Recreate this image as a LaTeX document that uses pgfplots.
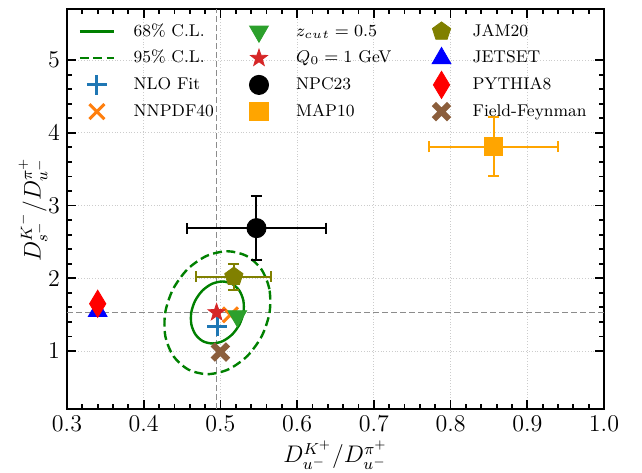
\documentclass[border=0pt]{standalone}
\usepackage{fix-cm}
\usepackage{pgfplots}
\pgfplotsset{compat=1.18}
\usetikzlibrary{plotmarks}

\definecolor{tabblue}{HTML}{1F77B4}
\definecolor{taborange}{HTML}{FF7F0E}
\definecolor{tabgreen}{HTML}{2CA02C}
\definecolor{tabred}{HTML}{D62728}
\definecolor{mplgreen}{HTML}{008000}
\definecolor{maporange}{HTML}{FFA500}
\definecolor{mplolive}{HTML}{808000}
\definecolor{mplblue}{HTML}{0000FF}
\definecolor{mplred}{HTML}{FF0000}
\definecolor{ffbrown}{HTML}{8B5E3C}
\definecolor{refgray}{HTML}{8C8C8C}

\pgfdeclareplotmark{fstar}{%
  \pgfpathmoveto{\pgfpointpolar{90}{\pgfplotmarksize}}%
  \pgfpathlineto{\pgfpointpolar{126}{0.4\pgfplotmarksize}}%
  \pgfpathlineto{\pgfpointpolar{162}{\pgfplotmarksize}}%
  \pgfpathlineto{\pgfpointpolar{198}{0.4\pgfplotmarksize}}%
  \pgfpathlineto{\pgfpointpolar{234}{\pgfplotmarksize}}%
  \pgfpathlineto{\pgfpointpolar{270}{0.4\pgfplotmarksize}}%
  \pgfpathlineto{\pgfpointpolar{306}{\pgfplotmarksize}}%
  \pgfpathlineto{\pgfpointpolar{342}{0.4\pgfplotmarksize}}%
  \pgfpathlineto{\pgfpointpolar{18}{\pgfplotmarksize}}%
  \pgfpathlineto{\pgfpointpolar{54}{0.4\pgfplotmarksize}}%
  \pgfpathclose\pgfusepathqfillstroke}

\pgfplotsset{
  ebars/.style={error bars/.cd, x dir=both, x explicit, y dir=both, y explicit,
    error bar style={line width=1pt, #1},
    error mark options={rotate=90, mark size=2.8pt, line width=1pt, #1}},
  s68/.style={mplgreen, line width=1.2pt},
  s95/.style={mplgreen, line width=1.2pt, dash pattern=on 4.5pt off 2.2pt},
  sNLO/.style={tabblue, only marks, mark=+, mark size=5pt, mark options={line width=1.5pt}},
  sNNPDF/.style={taborange, only marks, mark=x, mark size=5.3pt, mark options={line width=1.5pt}},
  sZ/.style={tabgreen, only marks, mark=triangle*, mark size=5.4pt, mark options={rotate=180}},
  sQ/.style={tabred, only marks, mark=fstar, mark size=4.5pt},
  sNPC/.style={black, only marks, mark=*, mark size=4.8pt},
  sMAP/.style={maporange, only marks, mark=square*, mark size=4.6pt},
  sJAM/.style={mplolive, only marks, mark=pentagon*, mark size=4.8pt},
  sJET/.style={mplblue, only marks, mark=triangle*, mark size=5.4pt},
  sPY/.style={mplred, only marks, mark=diamond*, mark size=6.8pt, mark options={xscale=0.8}},
  sFF/.style={ffbrown, only marks, mark=x, mark size=5.4pt, mark options={line width=3pt}},
}

\begin{document}
\begin{tikzpicture}
\begin{axis}[
  scale only axis, width=268.5pt, height=200pt,
  xmin=0.3, xmax=1.0, ymin=0.2, ymax=5.7,
  xtick={0.3,0.4,0.5,0.6,0.7,0.8,0.9,1.0},
  ytick={1,2,3,4,5},
  minor x tick num=4, minor y tick num=4,
  tick align=inside,
  major tick length=4.5pt, minor tick length=2.5pt,
  every tick/.style={black, line width=0.9pt},
  axis line style={line width=1.2pt},
  grid=major, major grid style={densely dotted, gray!40, line width=0.4pt},
  xticklabel style={/pgf/number format/.cd, fixed, fixed zerofill, precision=1},
  tick label style={font=\fontsize{12}{14}\selectfont},
  xlabel={$D_{u^-}^{K^+}/D_{u^-}^{\pi^+}$},
  ylabel={$D_{s^-}^{K^-}/D_{u^-}^{\pi^+}$},
  every axis x label/.style={at={(rel axis cs:0.5,0)}, yshift=-23pt, anchor=center, font=\fontsize{12}{14}\selectfont},
  every axis y label/.style={at={(rel axis cs:0,0.5)}, xshift=-17pt, rotate=90, anchor=center, font=\fontsize{12}{14}\selectfont},
  legend image code/.code={%
    \path[draw=none, fill=none] (0cm,-1pt) rectangle (0.6cm,1pt);
    \draw[overlay, mark repeat=2, mark phase=2, #1] plot coordinates {(0cm,0cm) (0.3cm,0cm) (0.6cm,0cm)};},
  legend columns=3,
  legend cell align=left,
  legend style={at={(0.012,0.985)}, anchor=north west, draw=none, fill=none,
    font=\fontsize{8.5}{10}\selectfont, row sep=1.45pt,
    nodes={inner ysep=1.2pt, text height=7pt, text depth=2.5pt},
    /tikz/column 1/.append style={column sep=7.8pt},
    /tikz/column 2/.append style={column sep=12pt},
    /tikz/column 3/.append style={column sep=8pt},
    /tikz/column 4/.append style={column sep=14.5pt},
    /tikz/column 5/.append style={column sep=5pt}},
]
% reference lines
\addplot[refgray, line width=0.7pt, dash pattern=on 3pt off 1.5pt, forget plot] coordinates {(0.495,0.2) (0.495,5.7)};
\addplot[refgray, line width=0.7pt, dash pattern=on 3pt off 1.5pt, forget plot] coordinates {(0.3,1.53) (1.0,1.53)};

% 68% C.L. contour
\addplot[s68, smooth cycle, forget plot] coordinates {
 (0.5300,1.530) (0.5299,1.693) (0.5246,1.832) (0.5150,1.924) (0.5025,1.956)
 (0.4890,1.924) (0.4766,1.832) (0.4671,1.693) (0.4620,1.530) (0.4621,1.367)
 (0.4674,1.229) (0.4770,1.136) (0.4895,1.104) (0.5030,1.136) (0.5154,1.229)
 (0.5249,1.367)};
% 95% C.L. contour
\addplot[s95, smooth cycle, forget plot] coordinates {
 (0.5640,1.527) (0.5638,1.850) (0.5533,2.125) (0.5340,2.308) (0.5090,2.372)
 (0.4820,2.308) (0.4571,2.125) (0.4382,1.850) (0.4280,1.527) (0.4282,1.204)
 (0.4387,0.930) (0.4580,0.746) (0.4830,0.682) (0.5100,0.746) (0.5349,0.930)
 (0.5538,1.204)};

\addplot[sNLO, forget plot] coordinates {(0.496,1.344)};
\addplot[sNNPDF, forget plot] coordinates {(0.513,1.497)};
\addplot[sZ, forget plot] coordinates {(0.522,1.48)};
\addplot[sQ, forget plot] coordinates {(0.495,1.53)};
\addplot[sNPC, forget plot, ebars=black] coordinates {(0.547,2.69) +- (0.09,0.44)};
\addplot[sMAP, forget plot, ebars=maporange] coordinates {(0.856,3.81) +- (0.084,0.41)};
\addplot[sJAM, forget plot, ebars=mplolive] coordinates {(0.5175,2.023) +- (0.049,0.18)};
\addplot[sJET, forget plot] coordinates {(0.340,1.55)};
\addplot[sPY, forget plot] coordinates {(0.340,1.65)};
\addplot[sFF, forget plot] coordinates {(0.500,0.986)};

% legend (row-wise order for 3 columns)
\addlegendimage{s68}\addlegendentry{68\% C.L.}
\addlegendimage{sZ}\addlegendentry{$z_{cut}=0.5$}
\addlegendimage{sJAM}\addlegendentry{JAM20}
\addlegendimage{s95}\addlegendentry{95\% C.L.}
\addlegendimage{sQ}\addlegendentry{$Q_0=1$ GeV}
\addlegendimage{sJET}\addlegendentry{JETSET}
\addlegendimage{sNLO}\addlegendentry{NLO Fit}
\addlegendimage{sNPC}\addlegendentry{NPC23}
\addlegendimage{sPY}\addlegendentry{PYTHIA8}
\addlegendimage{sNNPDF}\addlegendentry{NNPDF40}
\addlegendimage{sMAP}\addlegendentry{MAP10}
\addlegendimage{sFF}\addlegendentry{Field-Feynman}
\end{axis}
\pgfresetboundingbox
\useasboundingbox ([shift={(-33.5pt,-31.5pt)}]current axis.south west) rectangle ([shift={(19pt,4.6pt)}]current axis.north east);
\end{tikzpicture}
\end{document}
